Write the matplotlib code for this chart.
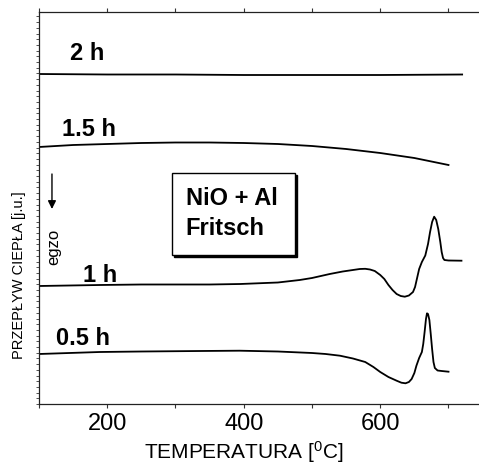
import matplotlib
matplotlib.use("Agg")
import matplotlib.pyplot as plt
from matplotlib.ticker import MultipleLocator, NullLocator
from matplotlib.patches import Rectangle
import matplotlib.transforms as mtransforms

plt.rcParams['font.family'] = ['Liberation Sans', 'DejaVu Sans']
plt.rcParams['mathtext.fontset'] = 'custom'
plt.rcParams['mathtext.rm'] = 'Liberation Sans'
plt.rcParams['mathtext.it'] = 'Liberation Sans'

# ---- data (temperature in degC, heat flow in arbitrary units) ----
t_2h = [100, 200, 300, 400, 500, 600, 720]
q_2h = [330, 329.5, 329.5, 329, 329, 329, 329.5]

t_15h = [100, 150, 200, 250, 300, 350, 400, 450, 500, 550, 600, 650, 700]
q_15h = [257, 259, 260, 261, 261.5, 261.5, 261, 260, 258, 255, 251, 246, 239]

t_1h = [100, 189, 250, 300, 350, 395, 450, 482, 500, 526, 545, 560, 570, 578,
        585, 592, 600, 606, 612, 618, 624, 630, 636, 642, 648, 651, 654, 657,
        661, 666, 670, 673, 676, 679, 682, 685, 688, 690, 692, 694, 700, 719]
q_1h = [118, 119, 119.5, 119.5, 119.5, 120, 121.5, 124, 126, 130, 132.5, 134,
        135, 135.2, 134.5, 133, 129, 125, 119, 114, 110, 108, 107.3, 108.5, 112,
        117, 126, 135, 142, 148.5, 160, 172, 182, 187.3, 184, 175, 162, 152, 146,
        144, 143.5, 143.3]

t_05h = [100, 189, 250, 336, 394, 450, 500, 520, 541, 560, 578, 590, 600, 612,
         624, 631, 637, 642, 646, 650, 653, 657, 661, 663, 665, 667, 668.5, 670,
         672, 674, 676, 678, 680, 684, 690, 700]
q_05h = [50, 52, 52.5, 53, 53.3, 52.5, 51, 50, 48.3, 45.5, 42, 37, 32, 27, 23.3,
         21.3, 20.7, 22, 25, 31, 38.3, 46, 52, 60, 72, 85, 90.7, 90, 84, 70, 55,
         42, 36, 33.5, 33, 32.3]

series = [(t_2h, q_2h, "2 h", 145, 345),
          (t_15h, q_15h, "1.5 h", 134, 269),
          (t_1h, q_1h, "1 h", 164, 123),
          (t_05h, q_05h, "0.5 h", 125, 60)]

x_ticks = [200, 400, 600]
x_tick_labels = ["200", "400", "600"]

fig = plt.figure(figsize=(4.79, 4.64), dpi=100)
ax = fig.add_axes([39/479, 59/464, 1 - 39/479, (405-13)/464])
ax.set_xlim(100, 744.7)
ax.set_ylim(0, 392)

for t, q, lab, lx, ly in series:
    ax.plot(t, q, color='black', lw=1.3, solid_joinstyle='round')
    ax.text(lx, ly, lab, fontsize=17, fontweight='bold', ha='left', va='baseline')

# box with shadow
off = mtransforms.offset_copy(ax.transData, fig=fig, x=2, y=-2, units='dots')
ax.add_patch(Rectangle((295, 149), 180, 82, facecolor='black', edgecolor='black',
                       lw=1, transform=off, zorder=4))
ax.add_patch(Rectangle((295, 149), 180, 82, facecolor='white', edgecolor='black',
                       lw=1, zorder=5))
ax.text(315, 200, "NiO + Al", fontsize=17, fontweight='bold', ha='left',
        va='baseline', zorder=6)
ax.text(315, 170, "Fritsch", fontsize=17, fontweight='bold', ha='left',
        va='baseline', zorder=6)

# arrow and egzo
ax.annotate("", xy=(119, 195), xytext=(119, 230),
            arrowprops=dict(arrowstyle='-|>', color='black', lw=1.0,
                            mutation_scale=12, shrinkA=0, shrinkB=0))
ax.text(122, 158, "egzo", fontsize=12, rotation=90, ha='center', va='center')

# axes styling
ax.spines['right'].set_visible(False)
for s in ['left', 'bottom', 'top']:
    ax.spines[s].set_linewidth(0.9)
    ax.spines[s].set_color('#222222')
ax.set_xticks(x_ticks)
ax.set_xticklabels(x_tick_labels, fontsize=17)
ax.xaxis.set_minor_locator(MultipleLocator(100))
ax.yaxis.set_major_locator(NullLocator())
ax.yaxis.set_minor_locator(MultipleLocator(5.7))
ax.tick_params(axis='x', which='both', direction='out', length=3, width=0.8,
               top=True, bottom=True, pad=3, color='#333333')
ax.tick_params(axis='y', which='minor', direction='out', length=2.5, width=0.6,
               left=True, right=False, color='#333333')

fig.text(244/479, 1 - 452/464, "TEMPERATURA [$^{0}$C]", fontsize=15,
         ha='center', va='center')
fig.text(19/479, 1 - 275/464, "PRZEPŁYW CIEPŁA [j.u.]", fontsize=10.5,
         rotation=90, ha='center', va='center')

fig.savefig("out.png", dpi=100)
